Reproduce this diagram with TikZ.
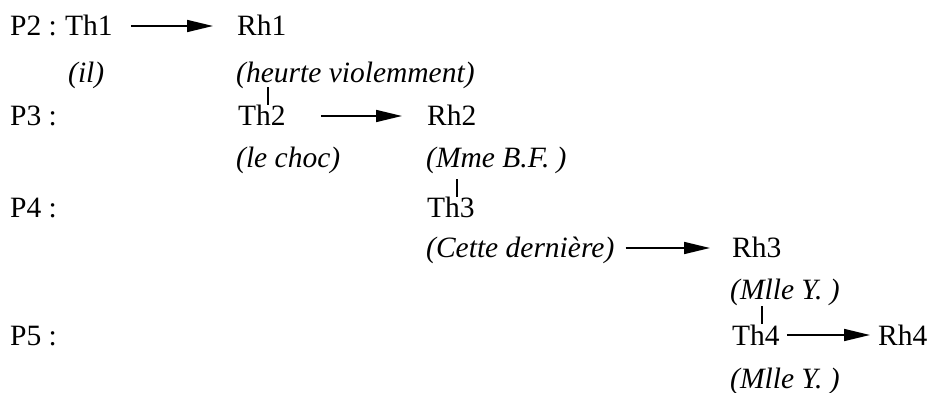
\documentclass[tikz,border=0pt]{standalone}
\usepackage{fontspec}
\setmainfont{Liberation Serif}
\usetikzlibrary{arrows.meta}
\begin{document}
\begin{tikzpicture}[x=1pt,y=-1pt,
  lbl/.style={anchor=base west,inner sep=0pt,font=\fontsize{29.5}{31}\selectfont},
  gloss/.style={anchor=base west,inner sep=0pt,font=\fontsize{29.5}{31}\selectfont\itshape},
  link/.style={line width=1.7pt,-{Triangle[length=26pt,width=12pt]}},
  tie/.style={line width=2pt}]
\useasboundingbox (0,0) rectangle (930,393);

% P2
\node[lbl]   (p2)     at (10,36)  {P2 :};
\node[lbl]   (th1)    at (65,36)  {Th1};
\node[lbl]   (rh1)    at (237,36) {Rh1};
\node[gloss] (il)     at (68,83)  {(il)};
\node[gloss] (heurte) at (236,83) {(heurte violemment)};

% P3
\node[lbl]   (p3)     at (10,126)  {P3 :};
\node[lbl]   (th2)    at (238,126) {Th2};
\node[lbl]   (rh2)    at (427,126) {Rh2};
\node[gloss] (choc)   at (236,168) {(le choc)};
\node[gloss] (mme)    at (426,168) {(Mme B.F. )};

% P4
\node[lbl]   (p4)     at (10,218)  {P4 :};
\node[lbl]   (th3)    at (427,218) {Th3};
\node[gloss] (cette)  at (426,258) {(Cette dernière)};
\node[lbl]   (rh3)    at (732,258) {Rh3};
\node[gloss] (mlleA)  at (730,299) {(Mlle Y. )};

% P5
\node[lbl]   (p5)     at (10,345)  {P5 :};
\node[lbl]   (th4)    at (732,345) {Th4};
\node[lbl]   (rh4)    at (878,345) {Rh4};
\node[gloss] (mlleB)  at (730,388) {(Mlle Y. )};

% theme -> rheme arrows
\draw[link,shorten <=18pt,shorten >=24pt] ([yshift=10pt]th1.base east) -- ([yshift=10pt]rh1.base west);
\draw[link,shorten <=35pt,shorten >=25pt] ([yshift=10pt]th2.base east) -- ([yshift=10pt]rh2.base west);
\draw[link,shorten <=11pt,shorten >=22pt] ([yshift=10pt]cette.base east) -- ([yshift=10pt]rh3.base west);
\draw[link,shorten <=7pt,shorten >=8pt]   ([yshift=10pt]th4.base east) -- ([yshift=10pt]rh4.base west);

% ties from a rheme to the following theme
\draw[tie] ([xshift=30pt,yshift=21pt]th2.base west) -- ++(0,-18);
\draw[tie] ([xshift=30pt,yshift=21pt]th3.base west) -- ++(0,-18);
\draw[tie] ([xshift=30pt,yshift=21pt]th4.base west) -- ++(0,-18);
\end{tikzpicture}
\end{document}
